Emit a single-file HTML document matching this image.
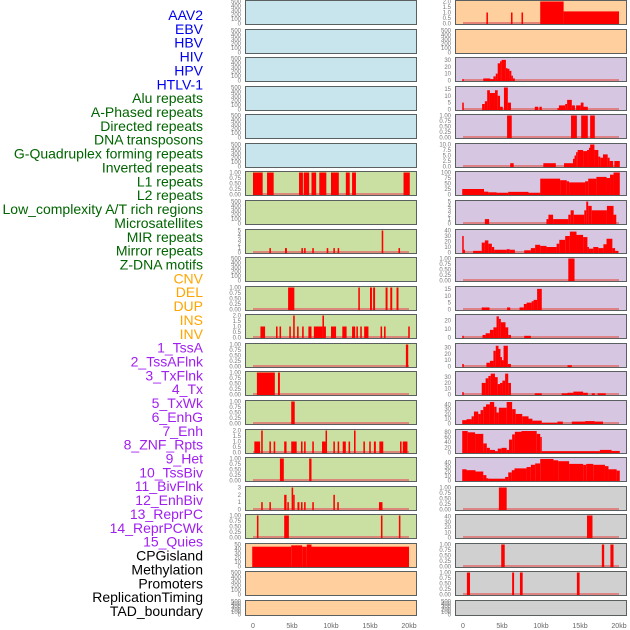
<!DOCTYPE html>
<html><head><meta charset="utf-8">
<style>
html,body{margin:0;padding:0;background:#fff;width:630px;height:630px;overflow:hidden}
svg{display:block;font-family:"Liberation Sans",sans-serif}
</style></head>
<body>
<svg id="chart" width="630" height="630" viewBox="0 0 630 630" xmlns="http://www.w3.org/2000/svg"></svg>
<script>
// ---------- labels ----------
const labelText = ["AAV2","EBV","HBV","HIV","HPV","HTLV-1","Alu repeats","A-Phased repeats","Directed repeats","DNA transposons","G-Quadruplex forming repeats","Inverted repeats","L1 repeats","L2 repeats","Low_complexity A/T rich regions","Microsatellites","MIR repeats","Mirror repeats","Z-DNA motifs","CNV","DEL","DUP","INS","INV","1_TssA","2_TssAFlnk","3_TxFlnk","4_Tx","5_TxWk","6_EnhG","7_Enh","8_ZNF_Rpts","9_Het","10_TssBiv","11_BivFlnk","12_EnhBiv","13_ReprPC","14_ReprPCWk","15_Quies","CPGisland","Methylation","Promoters","ReplicationTiming","TAD_boundary"];
const labelGroup = [0,0,0,0,0,0,1,1,1,1,1,1,1,1,1,1,1,1,1,2,2,2,2,2,3,3,3,3,3,3,3,3,3,3,3,3,3,3,3,4,4,4,4,4];
const groupColors = ["#0000ee","#006400","#ffa500","#a020f0","#000000"];

// ---------- x axis ----------
const xTickValues = [0,5,10,15,20];
const xTickLabels = ["0","5kb","10kb","15kb","20kb"];

// ---------- left column tracks: [startKb, endKb, value] ----------
const L1 = [], L2 = [], L3 = [], L4 = [], L5 = [], L6 = [];
const L7 = [[0,1.24,1],[1.8,2.65,1],[5.9,6.4,1],[6.5,7.2,1],[7.5,8.1,1],[8.5,9.4,1],[10.0,11.0,1],[11.9,12.4,1],[12.7,13.2,1],[19.3,20.1,1]];
const L8 = [];
const L9 = [[2.1,2.3,1],[4.1,4.35,1],[6.2,6.4,1],[6.55,6.75,1],[7.6,7.8,1],[9.45,9.65,1],[10.3,10.5,1],[10.85,11.05,1],[16.5,16.7,5],[18.65,18.85,1]];
const L10 = [];
const L11 = [[4.5,5.3,1],[13.5,13.7,1],[15.0,15.25,1],[15.4,15.65,1],[17.0,17.25,1],[17.6,17.85,1],[18.4,18.65,1]];
const L12 = [[0.95,1.55,1],[2.95,3.15,1],[3.4,3.6,1],[4.65,4.85,1],[5.15,5.35,2],[5.65,5.85,1],[6.3,6.5,1],[7.1,7.5,1],[7.8,8.9,1],[8.9,9.1,2],[9.1,9.35,1],[10.0,10.65,1],[11.45,12.0,1],[12.7,13.1,1],[13.25,13.45,1],[13.75,13.95,1],[14.25,14.8,1],[16.35,16.55,1],[16.8,17.0,1],[19.9,20.1,1]];
const L13 = [[19.6,19.9,1]];
const L14 = [[0.5,2.8,1],[3.2,3.45,1]];
const L15 = [[4.9,5.35,1]];
const L16 = [[0.17,0.9,1],[1.05,1.25,2],[2.1,2.3,1],[2.65,2.85,1],[4.0,4.3,1],[4.9,5.6,1],[6.15,6.35,1],[6.55,6.75,1],[7.6,7.8,1],[8.85,9.3,1],[9.3,9.45,2],[10.3,10.5,1],[10.85,11.05,1],[11.5,11.9,1],[12.25,12.45,1],[12.95,13.15,2],[14.15,14.35,1],[14.9,15.1,1],[15.5,15.75,1],[16.2,16.7,1],[18.85,19.05,1],[19.2,19.8,1]];
const L17 = [[3.45,3.95,1],[7.2,7.5,1]];
const L18 = [[1.05,1.25,1],[2.1,2.3,1],[4.0,4.3,2],[4.4,4.6,1],[4.95,5.15,3],[5.15,5.3,2],[5.7,5.95,1],[6.15,6.35,1],[6.55,6.75,1],[7.6,7.8,1],[10.3,10.5,2],[10.8,11.0,1],[16.15,16.6,1]];
const L19 = [[0.5,0.7,1],[4.0,4.6,1],[16.4,16.6,1],[18.7,18.9,1]];
const L20 = [[-0.1,4.9,45],[4.9,6.3,48],[6.3,6.9,45],[6.9,7.5,50],[7.5,20.0,45]];
const L21 = [], L22 = [];

// ---------- right column tracks ----------
const R1 = [[3.0,3.2,1],[6.15,6.35,1],[7.5,7.7,1],[9.9,12.9,2],[12.9,20.0,1.1]];
const R2 = [];
const R3 = [[-0.1,0.1,2],[2.6,3.5,3],[3.5,3.9,2],[3.9,4.2,6],[4.2,4.45,10],[4.45,4.75,25],[4.75,4.95,28],[4.95,5.5,30],[5.5,5.7,18],[5.7,5.95,17],[5.95,6.2,14],[6.2,6.4,7],[6.4,6.65,3]];
const R4 = [[-0.1,0.1,5],[2.45,2.8,4],[2.8,3.1,6],[3.1,3.45,14],[3.45,4.1,12],[4.1,4.45,14],[4.45,4.75,10],[4.75,5.1,2],[5.25,5.75,16],[5.75,6.15,5],[9.2,9.65,2],[9.8,10.1,2],[12.1,12.3,1],[12.3,13.1,3],[13.1,13.35,4],[13.35,13.95,7],[13.95,14.35,3],[14.5,15.1,3],[15.1,15.45,5],[15.45,16.0,2]];
const R5 = [[5.65,6.25,1],[13.85,14.6,1],[15.15,16.0,1],[16.3,16.9,1]];
const R6 = [[6.05,6.5,1.5],[10.3,11.9,1.5],[12.95,14.1,1.5],[14.1,14.3,3.5],[14.3,14.5,5],[14.5,14.7,6.5],[14.7,15.4,7.5],[15.4,15.9,7],[15.9,16.15,7.5],[16.15,16.3,8.5],[16.3,16.85,10],[16.85,17.35,7.5],[17.35,17.6,4.5],[17.6,17.95,4],[17.95,18.55,5.5],[18.55,18.8,4],[18.8,19.25,2.5],[19.4,20.1,2.5]];
const R7 = [[-0.1,2.7,25],[2.7,3.25,13],[3.25,4.3,10],[4.3,5.8,8],[5.8,8.4,12],[8.4,9.9,8],[9.9,12.45,72],[12.45,13.3,65],[13.3,13.6,60],[13.6,15.65,55],[15.65,16.05,60],[16.05,17.1,72],[17.1,18.4,80],[18.4,18.85,75],[18.85,19.3,90],[19.3,20.1,100]];
const R8 = [[2.8,3.35,1],[10.7,10.95,1],[10.95,11.55,2],[11.55,13.5,1],[13.5,13.8,2],[13.8,14.2,3],[14.2,15.55,2],[15.55,15.8,3],[15.8,16.05,5],[16.05,16.5,4],[16.5,18.45,3],[18.45,19.3,4],[19.3,19.65,2]];
const R9 = [[-0.1,0.05,30],[0.05,0.25,5],[1.3,2.4,3],[2.4,2.8,18],[2.8,3.25,22],[3.25,3.7,16],[3.7,4.0,10],[4.0,5.6,5],[5.6,6.0,6],[6.0,6.65,5],[7.85,8.7,4],[8.7,9.25,8],[9.25,9.9,14],[9.9,10.7,12],[10.7,12.0,10],[12.0,12.35,16],[12.35,13.1,23],[13.1,13.7,30],[13.7,14.55,38],[14.55,15.4,32],[15.4,15.95,28],[15.95,16.15,10],[16.15,16.7,7],[16.7,17.35,10],[17.35,18.0,8],[18.0,18.4,15],[18.4,19.15,25],[19.15,19.5,8],[19.5,19.9,3]];
const R10 = [[13.5,14.3,1]];
const R11 = [[2.4,3.4,1.5],[5.65,6.05,1.5],[7.25,7.8,1.5],[7.8,8.15,4],[8.15,8.8,5],[8.8,9.05,6],[9.05,9.5,7],[9.5,10.1,15]];
const R12 = [[-0.1,0.1,2],[2.5,2.9,3],[2.9,3.45,5],[3.45,3.9,9],[3.9,4.3,12],[4.3,4.6,25],[4.6,4.85,22],[4.85,5.45,18],[5.45,5.8,12],[5.8,6.15,3],[7.85,8.7,2]];
const R13 = [[-0.1,0.1,4],[3.0,3.45,6],[3.45,3.9,9],[3.9,4.2,25],[4.2,4.55,33],[4.55,4.8,28],[4.8,4.95,15],[4.95,5.2,10],[5.2,5.75,33],[5.75,6.15,4],[13.4,13.95,2]];
const R14 = [[-0.1,0.1,4],[2.4,2.9,20],[2.9,3.25,28],[3.25,3.55,32],[3.55,4.1,36],[4.1,4.45,30],[4.45,4.75,18],[4.75,5.05,20],[5.05,5.4,24],[5.4,5.8,36],[5.8,6.15,20],[9.2,10.1,2],[12.65,13.4,2],[13.4,14.15,3],[14.15,15.4,5],[15.4,16.0,3],[16.5,16.9,2],[17.25,18.3,2]];
const R15 = [[-0.1,0.45,7],[0.45,1.1,9],[1.1,1.4,15],[1.4,1.95,25],[1.95,2.25,20],[2.25,2.6,28],[2.6,2.95,35],[2.95,3.45,40],[3.45,4.0,45],[4.0,4.3,35],[4.3,4.6,23],[4.6,5.6,33],[5.6,6.3,45],[6.3,6.75,30],[6.75,7.6,20],[7.6,8.4,15],[8.4,8.9,10],[8.9,10.1,6],[10.1,12.1,1],[12.1,12.8,4],[13.95,15.65,4],[15.65,16.9,5],[16.9,17.95,4]];
const R16 = [[-0.1,0.6,83],[0.6,1.55,78],[1.55,2.6,72],[2.6,3.05,35],[3.05,3.45,18],[3.45,4.1,10],[4.1,4.45,5],[4.45,4.95,15],[4.95,5.6,18],[5.6,5.9,10],[5.9,6.3,50],[6.3,6.65,70],[6.65,7.5,80],[7.5,9.45,83],[9.45,9.9,72],[9.9,10.1,60],[10.1,17.55,5],[17.55,19.05,10],[19.05,20.1,6]];
const R17 = [[-0.1,0.45,25],[0.45,1.6,23],[1.6,2.6,20],[2.6,3.0,12],[3.0,3.25,5],[3.25,5.4,4],[5.4,5.8,8],[5.8,6.25,18],[6.25,6.6,23],[6.6,8.15,27],[8.15,8.7,30],[8.7,9.25,35],[9.25,9.9,38],[9.9,11.6,48],[11.6,12.2,45],[12.2,13.6,43],[13.6,15.4,37],[15.4,15.8,35],[15.8,16.7,37],[16.7,18.2,35],[18.2,18.65,32],[18.65,19.7,25],[19.7,20.1,22]];
const R18 = [[4.6,5.6,1]];
const R19 = [[15.9,16.6,42]];
const R20 = [[4.9,5.35,1],[17.8,18.1,1],[18.9,19.3,1]];
const R21 = [[0.5,0.9,1],[6.3,6.55,1],[7.3,7.65,1],[14.6,14.95,1]];
const R22 = [];

// ---------- y tick labels per panel ----------
const T500 = [0,100,200,300,400,500];
const T1 = [0,0.25,0.5,0.75,1];
const leftTicks = [T500,T500,T500,T500,T500,T500,T1,T500,[0,1,2,3,4,5],T500,T1,[0,0.5,1,1.5,2],T1,T1,T1,[0,0.5,1,1.5,2],T1,[0,1,2,3],T1,[0,10,20,30,40,50],T500,T500];
const rightTicks = [[0,0.5,1,1.5,2],T500,[0,10,20,30],[0,5,10,15],T1,[0,2.5,5,7.5,10],[0,25,50,75,100],[0,1,2,3,4,5],[0,10,20,30,40],T1,[0,5,10,15],[0,10,20],[0,10,20,30],[0,10,20,30],[0,10,20,30,40],[0,20,40,60,80],[0,10,20,30,40],T1,[0,10,20,30,40],T1,T1,T500];
const leftMax = [500,500,500,500,500,500,1,500,5,500,1,2,1,1,1,2,1,3,1,50,500,500];
const rightMax = [2,500,32,16,1,10,100,5,40,1,16,26,35,38,46,85,49,1,42,1,1,500];

const leftTracks = [L1,L2,L3,L4,L5,L6,L7,L8,L9,L10,L11,L12,L13,L14,L15,L16,L17,L18,L19,L20,L21,L22];
const rightTracks = [R1,R2,R3,R4,R5,R6,R7,R8,R9,R10,R11,R12,R13,R14,R15,R16,R17,R18,R19,R20,R21,R22];
const leftBg = ["b","b","b","b","b","b","g","g","g","g","g","g","g","g","g","g","g","g","g","o","o","o"];
const rightBg = ["o","o","p","p","p","p","p","p","p","p","p","p","p","p","p","p","p","g2","g2","g2","g2","g2"];

// ---------- rendering ----------
const NS = "http://www.w3.org/2000/svg";
const svg = document.getElementById("chart");
const bgColors = {b:"#c8e4ec", g:"#c9e0a2", o:"#ffd09e", p:"#d6c6e2", g2:"#d0d0d0"};
function mk(tag, attrs, parent){ const e=document.createElementNS(NS,tag); for(const k in attrs) e.setAttribute(k,attrs[k]); (parent||svg).appendChild(e); return e; }

// labels
labelText.forEach((t,i)=>{
  const el = mk("text",{x:203,y:20+i*13.86,"text-anchor":"end","font-size":"14",fill:groupColors[labelGroup[i]]});
  el.textContent = t;
  
  
});

const panelTops = i => Math.round(i*28.57);
function panelH(i){ return i===21 ? 16 : 25; }
function fmt(v, ticks){ const dec = ticks.some(t=>t%1!==0) ? (ticks.some(t=>Math.abs(t*10-Math.round(t*10))>1e-9)?2:1) : 0; return v.toFixed(dec); }

function drawColumn(tracks, ticks, maxes, bgs, x0, x1, zeroX, tickRight, side){
  const kb = (zeroX + 156 - zeroX)/20;
  const xs = v => zeroX + v*7.8;
  tracks.forEach((data,i)=>{
    const top = panelTops(i), h = panelH(i), bot = top+h;
    const g = mk("g",{});
    
    
    const r = mk("rect",{x:x0+0.5,y:top+0.5,width:x1-x0-1,height:h-1,fill:bgColors[bgs[i]],stroke:"#5a6060","stroke-width":1},g);
    
    
    const ys = v => bot-1.5 - (v/maxes[i])*(h-3);
    // ticks
    const tk = ticks[i];
    tk.forEach(v=>{
      const yy = ys(v/ (tk[tk.length-1]) * Math.min(maxes[i], tk[tk.length-1]) * (tk[tk.length-1]/Math.min(maxes[i],tk[tk.length-1])));
      const t = mk("text",{x:tickRight,y:Math.min(yy+2, bot+1),"text-anchor":"end","font-size":"6",fill:"#777"},g);
      t.textContent = fmt(v,tk);
      
      
    });
    if(data.length){
      const bl = mk("rect",{x:xs(0),y:bot-3,width:xs(20)-xs(0),height:2,fill:"#e07070",opacity:0.8},g);
      
      
    }
    data.forEach(d=>{
      const xa = Math.max(xs(d[0]), x0+1), xb = Math.min(xs(d[1]), x1-1);
      const w = Math.max(xb-xa, 1.5);
      const yt = Math.max(ys(d[2]), top+1);
      const b = mk("rect",{x:xa,y:yt,width:w,height:bot-1-yt,fill:"#ff0000"},g);
      
      
    });
  });
  xTickValues.forEach((v,j)=>{
    const t = mk("text",{x:xs(v),y:628,"text-anchor":"middle","font-size":"7",fill:"#666"});
    t.textContent = xTickLabels[j];
    
    
  });
}
drawColumn(leftTracks, leftTicks, leftMax, leftBg, 245, 417, 253, 241, "left");
drawColumn(rightTracks, rightTicks, rightMax, rightBg, 455, 627, 463, 451, "right");
</script>
</body></html>
